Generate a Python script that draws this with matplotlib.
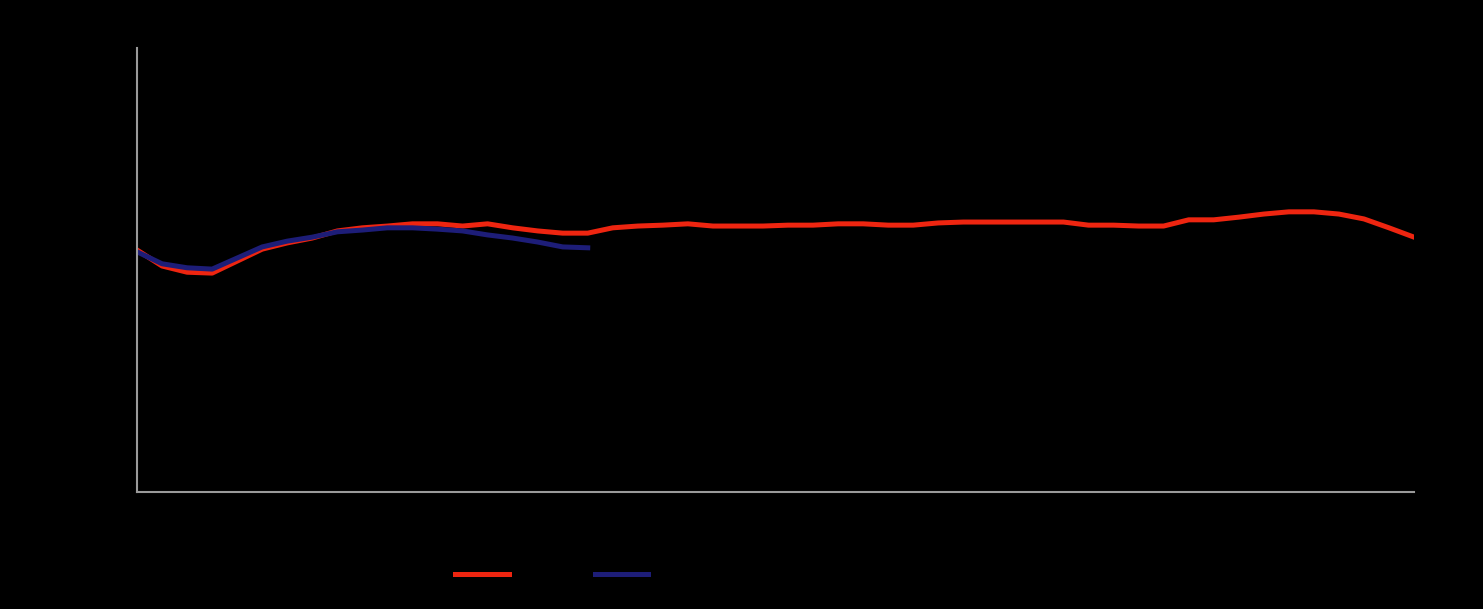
import numpy as np
import matplotlib
matplotlib.use('Agg')
import matplotlib.pyplot as plt

# 週ごとの値
weeks = np.arange(1, 53)
last_year = [54.5, 50.9, 49.5, 49.3, 52.0, 54.7, 56.1, 57.2, 58.8, 59.5,
             59.9, 60.4, 60.4, 59.9, 60.4, 59.5, 58.8, 58.3, 58.3, 59.5,
             59.9, 60.1, 60.4, 59.9, 59.9, 59.9, 60.1, 60.1, 60.4, 60.4,
             60.1, 60.1, 60.6, 60.8, 60.8, 60.8, 60.8, 60.8, 60.1, 60.1,
             59.9, 59.9, 61.3, 61.3, 61.9, 62.6, 63.1, 63.1, 62.6, 61.5,
             59.5, 57.4]
this_year = [54.1, 51.4, 50.5, 50.2, 52.7, 55.2, 56.5, 57.4, 58.6, 59.0,
             59.5, 59.5, 59.2, 58.8, 57.9, 57.2, 56.3, 55.2, 55.0]
labels = ['2023', '2024']

fig = plt.figure(figsize=(14.83, 6.09), dpi=100, facecolor='black')
ax = fig.add_axes([0.0924, 0.1921, 0.8611, 0.7291])
ax.set_facecolor('black')

ax.plot(weeks, last_year, color='#ee2510', lw=3.6, label=labels[0])
ax.plot(weeks[:len(this_year)], this_year, color='#1d1d78', lw=3.6, label=labels[1])

ax.set_xlim(1, 52)
ax.set_ylim(0, 100)

for s in ['top', 'right']:
    ax.spines[s].set_visible(False)
for s in ['left', 'bottom']:
    ax.spines[s].set_color('#9a9a9a')
    ax.spines[s].set_linewidth(1.5)

ax.tick_params(length=0, colors='black', labelsize=11)
ax.set_xticks(weeks[::4])
ax.set_yticks([0, 20, 40, 60, 80, 100])
ax.set_xlabel('Week', color='black')

leg = fig.legend(loc='center', bbox_to_anchor=(0.394, 0.055), ncol=2,
                 frameon=False, handlelength=2.75, fontsize=14,
                 columnspacing=1.07)
for t in leg.get_texts():
    t.set_color('black')

fig.savefig('out.png', dpi=100, facecolor='black')
